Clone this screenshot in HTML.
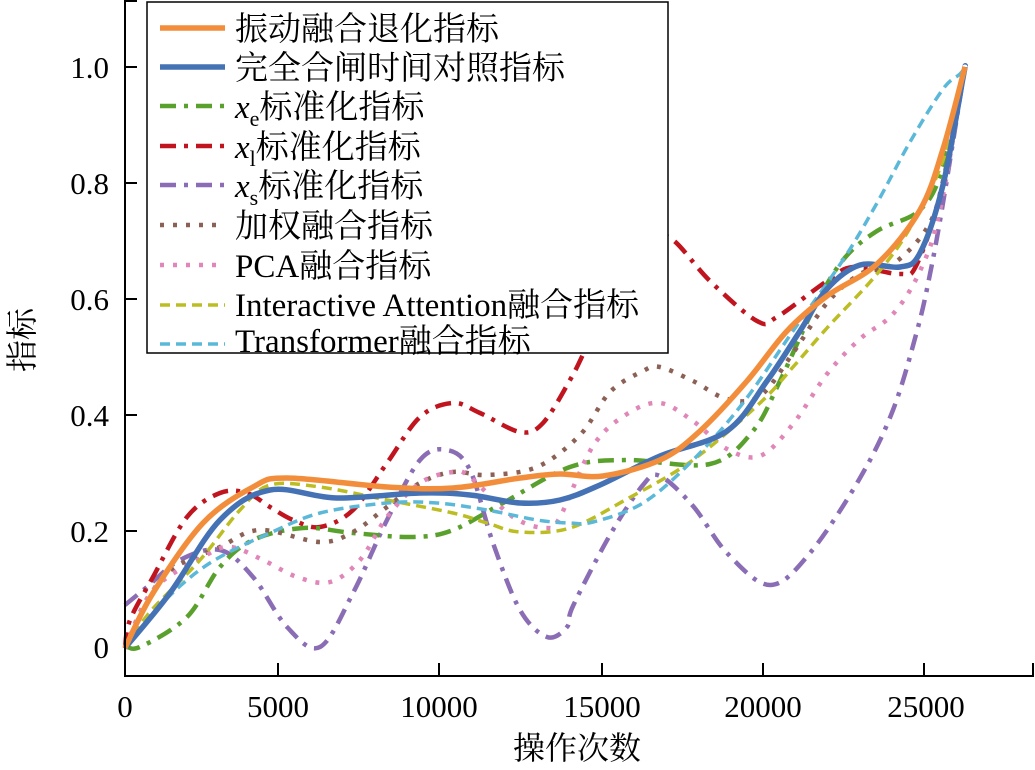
<!DOCTYPE html>
<html><head><meta charset="utf-8"><style>
html,body{margin:0;padding:0;background:#fff;}
svg{display:block;}
text{font-family:"Liberation Serif","Noto Serif CJK SC",serif;fill:#000;}
</style></head><body>
<svg id="chart" width="1035" height="770" viewBox="0 0 1035 770" xmlns="http://www.w3.org/2000/svg">
<g fill="none" stroke-linejoin="round" stroke-linecap="butt">
<polyline class="s" stroke="#8a6db5" stroke-width="4.5" stroke-dasharray="16 8 4 8" points="125,605 147,587 180,560 220,550 253,577 287,627 320,647 353,593 387,520 420,460 447,450 470,470 493,543 520,610 547,637 567,627 573,606 610,535 643,485 660,476 693,506 727,553 770,585 810,553 860,478 893,410 917,331 930,274 943,203 965,67"/>
<polyline class="s" stroke="#c0141e" stroke-width="4.5" stroke-dasharray="16 8 4 8" points="125,648 130,620 153,577 187,517 220,493 247,493 270,507 293,520 320,527 353,510 387,463 420,417 453,403 480,413 520,432 543,423 570,380 587,346 627,260 653,239 673,240 710,281 757,321 777,317 827,281 853,267 900,274 917,264 943,185 965,67"/>
<polyline class="s" stroke="#5aa02c" stroke-width="4.5" stroke-dasharray="16 8 4 8" points="125,645 140,647 187,617 220,567 253,540 303,528 353,533 413,537 453,530 503,503 570,467 627,460 710,464 753,431 780,381 813,310 843,260 877,231 920,210 943,167 965,67"/>
<polyline class="s" stroke="#8c6155" stroke-width="4.5" stroke-dasharray="4 9" points="125,648 163,577 220,547 260,530 320,542 353,532 387,507 420,483 453,472 487,475 537,467 580,435 610,392 643,371 660,367 693,381 727,399 760,396 793,353 827,303 860,274 893,264 927,228 943,181 965,67"/>
<polyline class="s" stroke="#e086b8" stroke-width="4.5" stroke-dasharray="4 9" points="125,648 153,590 203,557 230,547 263,560 297,577 330,582 360,560 387,517 420,483 453,472 470,477 513,517 547,528 560,517 593,446 627,414 660,403 693,421 727,449 760,456 793,424 827,374 860,339 893,314 920,271 940,210 965,67"/>
<polyline class="s" stroke="#bcbd22" stroke-width="3.5" stroke-dasharray="10 6" points="125,648 150,612 200,560 240,510 270,485 320,487 387,500 453,513 487,523 520,532 570,528 627,499 693,460 760,403 793,367 827,328 877,274 910,228 943,160 965,67"/>
<polyline class="s" stroke="#5bb8d8" stroke-width="3.5" stroke-dasharray="10 6" points="125,648 153,613 187,580 220,557 270,533 320,513 387,503 437,503 487,510 537,520 570,523 593,522 643,503 693,460 743,403 793,331 843,260 877,203 910,142 943,89 960,74 965,67"/>
<polyline class="s" stroke="#4472b4" stroke-width="5.5" points="125,648 170,593 220,520 270,490 337,498 420,493 470,495 520,503 560,500 600,485 660,456 727,431 767,381 800,331 827,289 860,265 900,267 920,253 943,185 963,78 965,67"/>
<polyline class="s" stroke="#f28e3b" stroke-width="5.5" points="125,648 153,593 203,523 253,487 287,478 387,487 453,488 520,478 560,474 603,476 660,460 700,431 747,381 787,331 827,296 877,264 920,210 943,149 965,67"/>
</g>
<g stroke="#000" stroke-width="2" fill="none">
<line x1="125" y1="0" x2="125" y2="677"/>
<line x1="124" y1="676" x2="1034" y2="676"/>
<line x1="278" y1="676" x2="278" y2="663"/>
<line x1="439" y1="676" x2="439" y2="663"/>
<line x1="602" y1="676" x2="602" y2="663"/>
<line x1="763" y1="676" x2="763" y2="663"/>
<line x1="924" y1="676" x2="924" y2="663"/>
<line x1="1033" y1="676" x2="1033" y2="663"/>
<line x1="125" y1="67" x2="137" y2="67"/>
<line x1="125" y1="183" x2="137" y2="183"/>
<line x1="125" y1="299" x2="137" y2="299"/>
<line x1="125" y1="415" x2="137" y2="415"/>
<line x1="125" y1="531" x2="137" y2="531"/>
<line x1="125" y1="1" x2="137" y2="1"/>
</g>
<g font-size="31" text-anchor="end">
<text x="109" y="78">1.0</text>
<text x="109" y="194">0.8</text>
<text x="109" y="310">0.6</text>
<text x="109" y="426">0.4</text>
<text x="109" y="542">0.2</text>
<text x="109" y="658">0</text>
</g>
<g font-size="31" text-anchor="middle">
<text x="125" y="717">0</text>
<text x="278" y="717">5000</text>
<text x="439" y="717">10000</text>
<text x="602" y="717">15000</text>
<text x="763" y="717">20000</text>
<text x="926" y="717">25000</text>
<text x="577" y="759" font-size="32">操作次数</text>
</g>
<text font-size="32" text-anchor="middle" transform="translate(33,340) rotate(-90)">指标</text>
<rect x="147" y="2" width="521" height="351" fill="#fff" stroke="#000" stroke-width="1.5"/>
<g fill="none">
<line x1="160" y1="28" x2="225" y2="28" stroke="#f28e3b" stroke-width="5.5"/>
<line x1="160" y1="67" x2="225" y2="67" stroke="#4472b4" stroke-width="5.5"/>
<line x1="160" y1="106" x2="225" y2="106" stroke="#5aa02c" stroke-width="4.5" stroke-dasharray="16 8 4 8"/>
<line x1="160" y1="146" x2="225" y2="146" stroke="#c0141e" stroke-width="4.5" stroke-dasharray="16 8 4 8"/>
<line x1="160" y1="185" x2="225" y2="185" stroke="#8a6db5" stroke-width="4.5" stroke-dasharray="16 8 4 8"/>
<line x1="160" y1="225" x2="225" y2="225" stroke="#8c6155" stroke-width="4.5" stroke-dasharray="4 9"/>
<line x1="160" y1="265" x2="225" y2="265" stroke="#e086b8" stroke-width="4.5" stroke-dasharray="4 9"/>
<line x1="160" y1="305" x2="225" y2="305" stroke="#bcbd22" stroke-width="3.5" stroke-dasharray="10 6"/>
<line x1="160" y1="344" x2="225" y2="344" stroke="#5bb8d8" stroke-width="3.5" stroke-dasharray="10 6"/>
</g>
<g font-size="33">
<text x="235" y="40">振动融合退化指标</text>
<text x="235" y="79">完全合闸时间对照指标</text>
<text x="235" y="118"><tspan font-style="italic">x</tspan><tspan font-size="22" dy="8">e</tspan><tspan dy="-8">标准化指标</tspan></text>
<text x="235" y="158"><tspan font-style="italic">x</tspan><tspan font-size="22" dy="8">l</tspan><tspan dy="-8">标准化指标</tspan></text>
<text x="235" y="197"><tspan font-style="italic">x</tspan><tspan font-size="22" dy="8">s</tspan><tspan dy="-8">标准化指标</tspan></text>
<text x="235" y="237">加权融合指标</text>
<text x="235" y="277">PCA融合指标</text>
<text x="235" y="316">Interactive Attention融合指标</text>
<text x="235" y="354" dy="-2">Transformer融合指标</text>
</g>
</svg>
<script>
(function(){
var ns="http://www.w3.org/2000/svg";
document.querySelectorAll("polyline.s").forEach(function(pl){
  var p=pl.getAttribute("points").trim().split(/\s+/).map(function(s){return s.split(",").map(Number);});
  var d="M"+p[0][0]+","+p[0][1];
  for(var i=0;i<p.length-1;i++){
    var p0=p[i-1]||p[i],p1=p[i],p2=p[i+1],p3=p[i+2]||p2;
    var c1x=p1[0]+(p2[0]-p0[0])/6,c1y=p1[1]+(p2[1]-p0[1])/6;
    var c2x=p2[0]-(p3[0]-p1[0])/6,c2y=p2[1]-(p3[1]-p1[1])/6;
    d+=" C"+c1x.toFixed(1)+","+c1y.toFixed(1)+" "+c2x.toFixed(1)+","+c2y.toFixed(1)+" "+p2[0]+","+p2[1];
  }
  var path=document.createElementNS(ns,"path");
  ["stroke","stroke-width","stroke-dasharray"].forEach(function(a){var v=pl.getAttribute(a);if(v)path.setAttribute(a,v);});
  path.setAttribute("d",d);
  pl.parentNode.replaceChild(path,pl);
});
})();
</script>
</body></html>
